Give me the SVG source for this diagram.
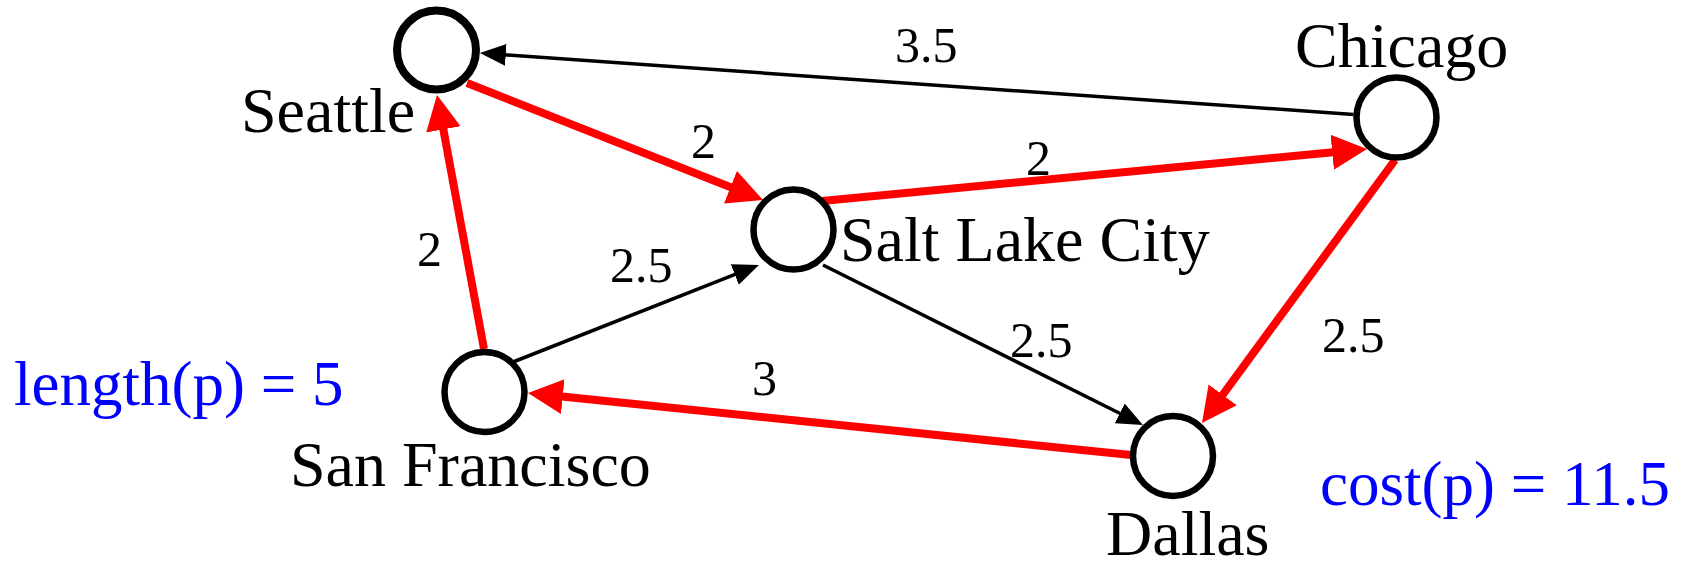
<svg xmlns="http://www.w3.org/2000/svg" width="1685" height="570" viewBox="0 0 1685 570">
<style>
  .node { fill: #fff; stroke: #000; stroke-width: 6.5; }
  .lbl { font-family: "Liberation Serif", "Times New Roman", serif; font-size: 64px; fill: #000; }
  .num { font-family: "Liberation Serif", "Times New Roman", serif; font-size: 50px; fill: #000; }
  .blue { font-family: "Liberation Serif", "Times New Roman", serif; font-size: 63px; fill: #0000ff; }
  .red { stroke: #ff0000; stroke-width: 8; fill: none; }
  .blk { stroke: #000; stroke-width: 3.5; fill: none; }
</style>
<defs>
  <marker id="ar" markerUnits="userSpaceOnUse" markerWidth="36" markerHeight="36" viewBox="0 -18 36 36" refX="1" refY="0" orient="auto">
    <path d="M0,-17.5 L35,0 L0,17.5 z" fill="#ff0000"/>
  </marker>
  <marker id="ab" markerUnits="userSpaceOnUse" markerWidth="28" markerHeight="24" viewBox="0 -12 28 24" refX="1" refY="0" orient="auto">
    <path d="M0,-11 L26,0 L0,11 z" fill="#000"/>
  </marker>
</defs>
<g id="connectors">
  <line class="blk" x1="1353.6" y1="114.5" x2="504.8" y2="54.8" marker-end="url(#ab)"/>
  <line class="red" x1="467" y1="83" x2="731.4" y2="187.5" marker-end="url(#ar)"/>
  <line class="red" x1="822" y1="201" x2="1333.2" y2="152.2" marker-end="url(#ar)"/>
  <line class="red" x1="1395" y1="160" x2="1222.1" y2="395.6" marker-end="url(#ar)"/>
  <line class="blk" x1="823" y1="265" x2="1120.6" y2="413.8" marker-end="url(#ab)"/>
  <line class="red" x1="1131" y1="455" x2="561.8" y2="396.5" marker-end="url(#ar)"/>
  <line class="red" x1="484" y1="349" x2="443.2" y2="128.4" marker-end="url(#ar)"/>
  <line class="blk" x1="513" y1="362" x2="735.7" y2="274.2" marker-end="url(#ab)"/>
  <text class="num" x="895" y="62">3.5</text>
  <text class="num" x="691" y="158">2</text>
  <text class="num" x="1026" y="175">2</text>
  <text class="num" x="417" y="266">2</text>
  <text class="num" x="610" y="282">2.5</text>
  <text class="num" x="1010" y="357">2.5</text>
  <text class="num" x="1322" y="352">2.5</text>
  <text class="num" x="752" y="395">3</text>
</g>
<g id="seattle">
  <circle cx="436.5" cy="50" r="39.5" class="node" style="stroke-width:8"/>
  <text class="lbl" x="241" y="132">Seattle</text>
</g>
<g id="chicago">
  <circle cx="1396.5" cy="117.5" r="40" class="node"/>
  <text class="lbl" x="1295" y="67">Chicago</text>
</g>
<g id="saltlakecity">
  <circle cx="793.5" cy="229.5" r="40" class="node"/>
  <text class="lbl" x="840" y="261">Salt Lake City</text>
</g>
<g id="sanfrancisco">
  <circle cx="484.5" cy="392" r="40" class="node"/>
  <text class="lbl" x="290" y="486">San Francisco</text>
</g>
<g id="dallas">
  <circle cx="1173" cy="456" r="40" class="node"/>
  <text class="lbl" x="1106" y="555">Dallas</text>
</g>
<g id="annotations">
  <text class="blue" x="14" y="405">length(p) = 5</text>
  <text class="blue" x="1320" y="505">cost(p) = 11.5</text>
</g>
</svg>
